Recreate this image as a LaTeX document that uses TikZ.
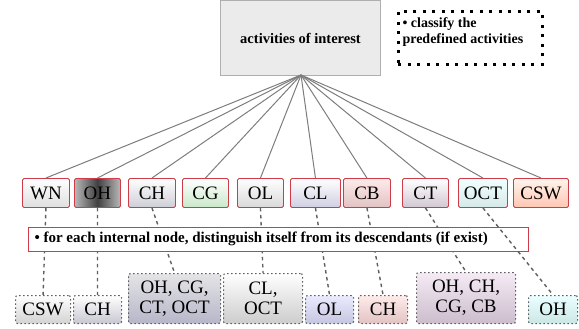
\documentclass[tikz,border=0pt]{standalone}
\usepackage{fontspec}
\setmainfont{Liberation Serif}
\definecolor{catred}{RGB}{205,60,72}
\definecolor{rootfill}{RGB}{235,235,235}
\definecolor{rootline}{RGB}{175,175,175}
\definecolor{fanline}{RGB}{125,125,125}
\definecolor{dashline}{RGB}{95,95,95}
\begin{document}
\begin{tikzpicture}[x=1pt,y=-1pt,
  catbox/.style={draw=catred, line width=0.9pt, rounded corners=1.5pt,
    minimum height=29pt, inner sep=0pt, anchor=north west,
    font=\fontsize{19}{19}\selectfont},
  descbox/.style={draw=dashline, line width=1.1pt, dash pattern=on 1.5pt off 2.5pt,
    rounded corners=2pt, inner sep=0pt, anchor=north west, align=center,
    font=\fontsize{19}{20}\selectfont},
  fan/.style={draw=fanline, line width=1pt},
  link/.style={draw=dashline, line width=1.4pt, dash pattern=on 3.5pt off 3.5pt},
  note/.style={font=\bfseries\fontsize{14}{16.5}\selectfont, align=left}
]
\useasboundingbox (0,0) rectangle (579,329);

% root of the hierarchy
\node[draw=rootline, fill=rootfill, line width=1pt, minimum width=160pt,
  minimum height=75pt, anchor=north west, inner sep=0pt,
  font=\bfseries\fontsize{14.5}{16}\selectfont] (root) at (220,0) {activities of interest};
\node[draw=black, line width=2.6pt, dash pattern=on 3pt off 6.5pt, minimum width=144pt,
  minimum height=53pt, anchor=north west, inner sep=0pt] (cls) at (397,10) {};
\node[note, anchor=north west] (clstext) at (399,14)
  {\textbullet\ classify the\\predefined activities};
\coordinate (hub) at (301,75);

% activity categories
\node[catbox, minimum width=47pt, top color=white, bottom color=gray!25] (wn) at (22,178) {WN};
\node[catbox, minimum width=46pt, left color=gray!55, right color=gray!55, middle color=black!75] (oh) at (74,178) {OH};
\node[catbox, minimum width=47pt, top color=white, bottom color=blue!10!gray!35] (ch) at (128,178) {CH};
\node[catbox, minimum width=46pt, top color=white, bottom color=green!40!gray!30] (cg) at (182,178) {CG};
\node[catbox, minimum width=46pt, top color=white, bottom color=gray!30] (ol) at (237,178) {OL};
\node[catbox, minimum width=50pt, top color=white, bottom color=blue!25!gray!30] (cl) at (290,178) {CL};
\node[catbox, minimum width=47pt, top color=red!8, bottom color=red!35!gray!35] (cb) at (343,178) {CB};
\node[catbox, minimum width=46pt, top color=white, bottom color=violet!25!gray!35] (ct) at (402,178) {CT};
\node[catbox, minimum width=49pt, top color=cyan!5, bottom color=cyan!30!gray!25] (oct) at (458,178) {OCT};
\node[catbox, minimum width=55pt, top color=orange!8, bottom color=orange!50!red!30] (csw) at (513,178) {CSW};

\foreach \n in {wn,oh,ch,cg,ol,cl,cb,ct,oct,csw}
  \draw[fan] (hub) -- (\n.north);

% descendant sets
\node[descbox, minimum width=55pt, minimum height=28pt, top color=white, bottom color=gray!35] (d1) at (15,295) {CSW};
\node[descbox, minimum width=48pt, minimum height=28pt, top color=white, bottom color=blue!10!gray!40] (d2) at (73,295) {CH};
\node[descbox, minimum width=92pt, minimum height=50pt, top color=blue!5!gray!20, bottom color=blue!15!gray!50] (d3) at (128,273) {OH, CG,\\CT, OCT};
\node[descbox, minimum width=79pt, minimum height=50pt, top color=white, bottom color=gray!40] (d4) at (223,273) {CL,\\OCT};
\node[descbox, minimum width=48pt, minimum height=28pt, top color=blue!8, bottom color=blue!30!gray!35] (d5) at (305,295) {OL};
\node[descbox, minimum width=49pt, minimum height=28pt, top color=red!8, bottom color=red!35!gray!35] (d6) at (358,295) {CH};
\node[descbox, minimum width=99pt, minimum height=51pt, top color=violet!8, bottom color=violet!30!gray!40] (d7) at (416,272) {OH, CH,\\CG, CB};
\node[descbox, minimum width=49pt, minimum height=28pt, top color=cyan!8, bottom color=cyan!35!gray!30] (d8) at (528,295) {OH};

\draw[link] (wn.south) -- (d1.north);
\draw[link] (oh.south) -- (d2.north);
\draw[link] (ch.south) -- (d3.north);
\draw[link] (ol.south) -- (d4.north);
\draw[link] (cl.south) -- (d5.north);
\draw[link] (cb.south) -- (d6.north);
\draw[link] (ct.south) -- (d7.north);

% instruction band
\node[draw=catred, line width=1pt, fill=white, minimum width=500pt, minimum height=24pt,
  anchor=north west, inner sep=0pt] (band) at (28,227) {};
\node[note, anchor=west, font=\bfseries\fontsize{15}{17}\selectfont] (bandtext) at (31,239)
  {\textbullet\ for each internal node, distinguish itself from its descendants (if exist)};

\draw[link] (oct.south) -- (d8.north);
\end{tikzpicture}
\end{document}
